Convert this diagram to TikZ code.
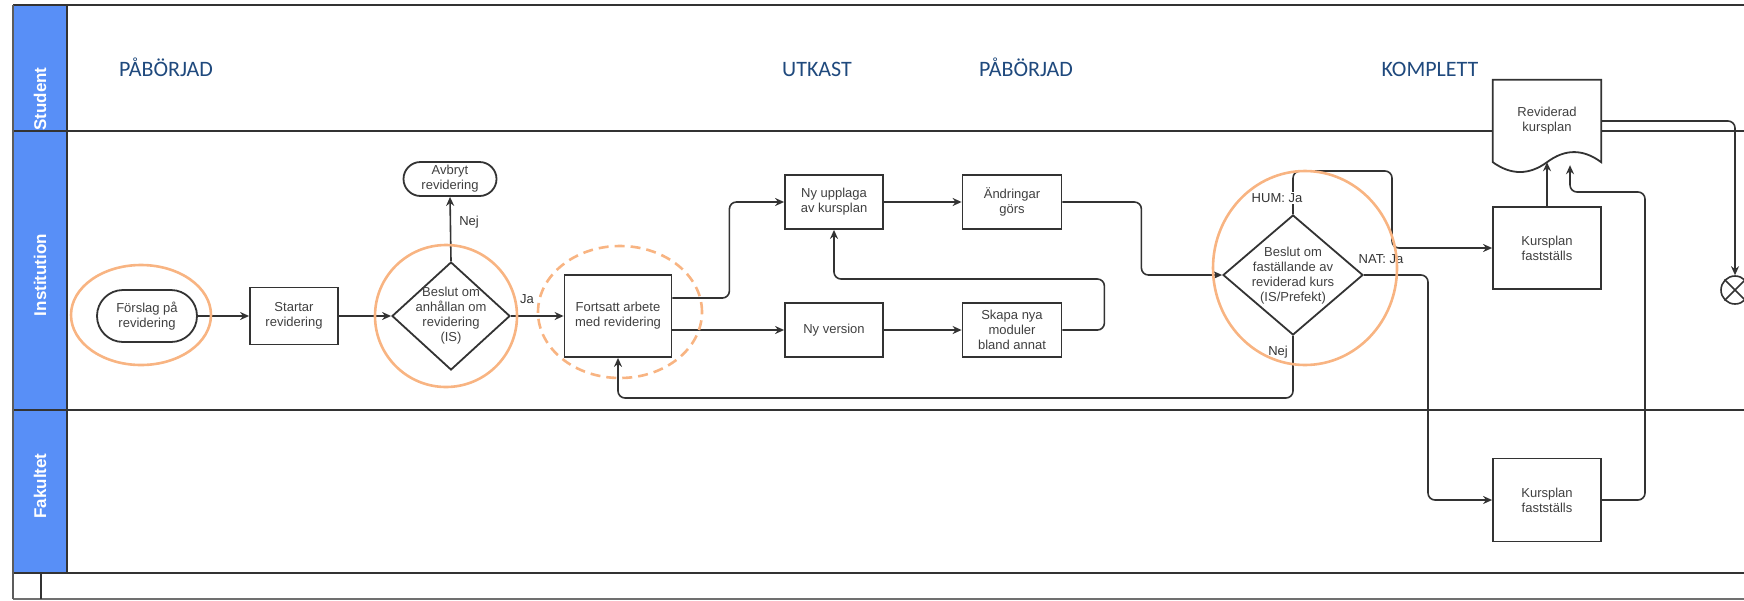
\documentclass[tikz,border=0pt]{standalone}
\usepackage{fontspec}
\setmainfont{Liberation Sans}
\newfontfamily\statusfont{Carlito}
\usetikzlibrary{arrows.meta,shapes.geometric,calc}
\definecolor{laneblue}{RGB}{88,143,247}
\definecolor{lineg}{RGB}{51,51,51}
\definecolor{txtg}{RGB}{64,64,64}
\definecolor{orng}{RGB}{248,180,130}
\definecolor{stat}{RGB}{31,73,125}
\begin{document}
\begin{tikzpicture}[x=1pt,y=-1pt,
  laneline/.style={draw=lineg, line width=2.4pt},
  box/.style={draw=lineg, line width=1.8pt, fill=white, inner sep=0pt, align=center,
    font=\fontsize{13}{15}\selectfont, text=txtg},
  txt/.style={inner sep=0pt, align=center, font=\fontsize{13}{15}\selectfont, text=txtg},
  dia/.style={diamond, draw=lineg, line width=1.8pt, fill=white, inner sep=0pt},
  conn/.style={draw=lineg, line width=1.6pt, rounded corners=7pt, -{Stealth[length=9pt,width=8pt]}},
  lbl/.style={inner sep=1pt, font=\fontsize{13}{15}\selectfont, text=lineg},
  ring/.style={ellipse, draw=orng, line width=2.6pt, inner sep=0pt},
  lanetitle/.style={rotate=90, font=\bfseries\fontsize{17}{20}\selectfont, text=white},
  status/.style={anchor=base, font=\statusfont\fontsize{22}{26}\selectfont, text=stat}
]
\useasboundingbox (0,0) rectangle (1744,600);
% lanes
\fill[laneblue] (13,5) rectangle (67,573);
\draw[laneline] (13,5) -- (1744,5);
\draw[laneline] (13,131) -- (1744,131);
\draw[laneline] (13,410) -- (1744,410);
\draw[laneline] (13,573) -- (1744,573);
\draw[draw=lineg!70, line width=1.8pt] (13,599) -- (1744,599);
\draw[draw=lineg!80, line width=1.8pt] (13,5) -- (13,599);
\draw[laneline] (67,5) -- (67,573);
\draw[laneline] (41,573) -- (41,599);
\node[lanetitle] (lstud) at (40,99) {Student};
\node[lanetitle] (linst) at (40,275) {Institution};
\node[lanetitle] (lfak) at (40,486) {Fakultet};
% status labels
\node[status] (s1) at (166,76) {PÅBÖRJAD};
\node[status] (s2) at (817,76) {UTKAST};
\node[status] (s3) at (1026,76) {PÅBÖRJAD};
\node[status] (s4) at (1430,76) {KOMPLETT};
% nodes
\node[box, rounded corners=26pt, minimum width=100, minimum height=52] (n1) at (147,316) {Förslag på\\revidering};
\node[box, minimum width=88, minimum height=57] (n2) at (294,316) {Startar\\revidering};
\node[dia, minimum width=118, minimum height=108] (d1) at (451,316) {};
\node[txt] (d1t) at (451,316) {Beslut om\\anhållan om\\revidering\\(IS)};
\node[box, rounded corners=17pt, minimum width=93, minimum height=34] (av) at (450,179) {Avbryt\\revidering};
\node[box, minimum width=107, minimum height=82] (n3) at (618,316) {Fortsatt arbete\\med revidering};
\node[box, minimum width=98, minimum height=54] (n4) at (834,202) {Ny upplaga\\av kursplan};
\node[box, minimum width=99, minimum height=54] (n5) at (1012,202) {Ändringar\\görs};
\node[box, minimum width=98, minimum height=54] (n6) at (834,330) {Ny version};
\node[box, minimum width=99, minimum height=54] (n7) at (1012,330) {Skapa nya\\moduler\\bland annat};
\node[dia, minimum width=140, minimum height=120] (d2) at (1293,275) {};
\node[txt] (d2t) at (1293,276) {Beslut om\\faställande av\\reviderad kurs\\(IS/Prefekt)};
\node[box, minimum width=108, minimum height=82] (k1) at (1547,248) {Kursplan\\fastställs};
\node[box, minimum width=108, minimum height=83] (k2) at (1547,500) {Kursplan\\fastställs};
\node[inner sep=0pt, minimum width=108, minimum height=82] (doc) at (1547,121) {};
\draw[draw=lineg, line width=1.8pt, fill=white] (doc.north west) -- (doc.north east) -- (doc.south east)
  .. controls (1583,148.7) and (1565,148.7) .. (doc.south)
  .. controls (1529,175.3) and (1511,175.3) .. (doc.south west) -- cycle;
\node[txt] (doct) at (1547,121) {Reviderad\\kursplan};
\node[circle, draw=lineg, line width=1.6pt, fill=white, minimum size=28, inner sep=0pt] (end) at (1735,290) {};
\draw[draw=lineg, line width=1.6pt] (end.north west) -- (end.south east) (end.north east) -- (end.south west);
% connectors
\draw[conn] (n1.east) -- (n2.west);
\draw[conn] (n2.east) -- (d1.west);
\draw[conn] (d1.north) -- (av.south);
\draw[conn] (d1.east) -- (n3.west);
\draw[conn] ([yshift=18pt]n3.east) -- ++(57,0) |- (n4.west);
\draw[conn] (n3.east |- n6.west) -- (n6.west);
\draw[conn] (n4.east) -- (n5.west);
\draw[conn] (n6.east) -- (n7.west);
\draw[conn] (n7.east) -- ++(42,0) -- ++(0,-51) -| (n4.south);
\draw[conn] (n5.east) -- ++(79,0) |- (d2.west);
\draw[conn] (d2.north) |- (1392,171) |- (k1.west);
\draw[conn] (d2.east) -- (1428,275) |- (k2.west);
\draw[conn] (d2.south) -- (1293,398) -| (n3.south);
\draw[conn] (k1.north) -- (doc.south);
\draw[conn] (k2.east) -| (1645,192) -- (1570,192) -- ($(doc.south)+(23,3)$);
\draw[conn] (doc.east) -| (end.north);
% labels
\node[lbl] (lnej1) at (469,222) {Nej};
\node[lbl] (lja1) at (527,299) {Ja};
\node[lbl, fill=white] (lhum) at (1277,198) {HUM: Ja};
\node[lbl] (lnat) at (1381,259) {NAT: Ja};
\node[lbl] (lnej2) at (1278,352) {Nej};
% orange rings
\node[ring, minimum width=140, minimum height=100] (o1) at (141,315) {};
\node[ring, minimum width=142, minimum height=142] (o2) at (446,316) {};
\node[ring, dashed, dash pattern=on 10pt off 6pt, minimum width=164, minimum height=132] (o3) at (620,312) {};
\node[ring, minimum width=184, minimum height=194] (o4) at (1305,268) {};
\end{tikzpicture}
\end{document}
